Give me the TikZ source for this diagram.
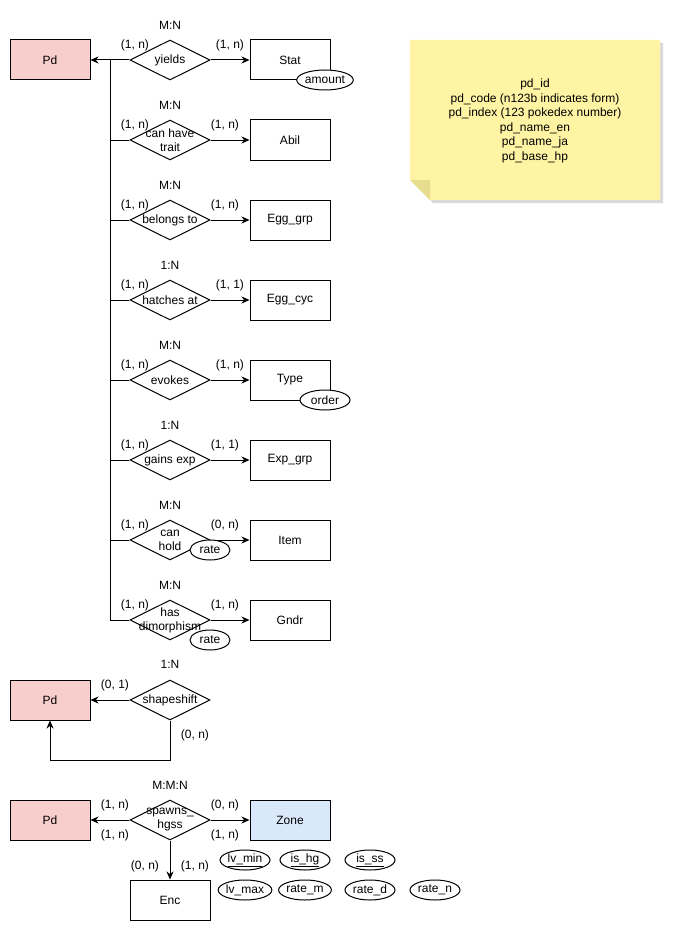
\documentclass[tikz,border=0pt]{standalone}
\usepackage{fontspec}
\setmainfont{Liberation Sans}
\usepackage{tikz}
\usetikzlibrary{shapes.geometric,arrows.meta}

\definecolor{pdred}{HTML}{F8CECC}
\definecolor{zoneblue}{HTML}{DAE8FC}
\definecolor{notefill}{HTML}{FFF4A3}
\definecolor{notefold}{HTML}{E8DC8E}

\tikzset{
  ent/.style={draw, minimum width=80pt, minimum height=40pt, inner sep=0pt},
  rel/.style={draw, diamond, fill=white, minimum width=80pt, minimum height=40pt, inner sep=0pt},
  attr/.style={draw, ellipse, fill=white, minimum width=50pt, minimum height=20pt, inner sep=0pt},
}

\begin{document}
\begin{tikzpicture}[x=1pt,y=-1pt,line width=1pt,>={Stealth[length=8pt,width=7pt,inset=2.5pt]},
  every node/.style={font=\fontsize{12}{14}\selectfont}]
\useasboundingbox (0,0) rectangle (677,931);

% sticky note
\fill[black!15] (413,43) -- (663,43) -- (663,203) -- (433,203) -- (413,183) -- cycle;
\fill[notefill] (410,40) -- (660,40) -- (660,200) -- (430,200) -- (410,180) -- cycle;
\fill[notefold] (410,180) -- (430,180) -- (430,200) -- cycle;
\node[align=center, font=\fontsize{12}{14.5}\selectfont] (note) at (535,121)
  {pd\_id\\pd\_code (n123b indicates form)\\pd\_index (123 pokedex number)\\pd\_name\_en\\pd\_name\_ja\\pd\_base\_hp};

% Pd and its relations
\node[ent,fill=pdred] (pd1) at (50,60) {Pd};
\coordinate (j1) at (110,60);
\coordinate (j8) at (110,620);
\draw (j1) -- (j8);

\node[rel,label={center:yields}] (r1) at (170,60) {};
\node[ent] (e1) at (290,60) {Stat};
\node at (170,25) {M:N};
\node at (135,45) {(1, n)};
\node at (230,45) {(1, n)};
\draw[->] (r1) -- (pd1);
\draw[->] (r1) -- (e1);

\node[rel,label={[align=center]center:can have\\trait}] (r2) at (170,140) {};
\node[ent] (e2) at (290,140) {Abil};
\node at (170,105) {M:N};
\node at (135,125) {(1, n)};
\node at (225,125) {(1, n)};
\draw (j1 |- r2) -- (r2);
\draw[->] (r2) -- (e2);

\node[rel,label={center:belongs to}] (r3) at (170,220) {};
\node[ent] (e3) at (290,220) {Egg\_grp};
\node at (170,185) {M:N};
\node at (135,205) {(1, n)};
\node at (225,205) {(1, n)};
\draw (j1 |- r3) -- (r3);
\draw[->] (r3) -- (e3);

\node[rel,label={center:hatches at}] (r4) at (170,300) {};
\node[ent] (e4) at (290,300) {Egg\_cyc};
\node at (170,265) {1:N};
\node at (135,285) {(1, n)};
\node at (230,285) {(1, 1)};
\draw (j1 |- r4) -- (r4);
\draw[->] (r4) -- (e4);

\node[rel,label={center:evokes}] (r5) at (170,380) {};
\node[ent] (e5) at (290,380) {Type};
\node at (170,345) {M:N};
\node at (135,365) {(1, n)};
\node at (230,365) {(1, n)};
\draw (j1 |- r5) -- (r5);
\draw[->] (r5) -- (e5);

\node[rel,label={center:gains exp}] (r6) at (170,460) {};
\node[ent] (e6) at (290,460) {Exp\_grp};
\node at (170,425) {1:N};
\node at (135,445) {(1, n)};
\node at (225,445) {(1, 1)};
\draw (j1 |- r6) -- (r6);
\draw[->] (r6) -- (e6);

\node[rel,label={[align=center]center:can\\hold}] (r7) at (170,540) {};
\node[ent] (e7) at (290,540) {Item};
\node at (170,505) {M:N};
\node at (135,525) {(1, n)};
\node at (225,525) {(0, n)};
\draw (j1 |- r7) -- (r7);
\draw[->] (r7) -- (e7);

\node[rel,label={[align=center]center:has\\dimorphism}] (r8) at (170,620) {};
\node[ent] (e8) at (290,620) {Gndr};
\node at (170,585) {M:N};
\node at (135,605) {(1, n)};
\node at (225,605) {(1, n)};
\draw (j8) -- (r8);
\draw[->] (r8) -- (e8);

% attributes
\node[attr] (a1) at (325,80) {amount};
\node[attr] (a5) at (325,400) {order};
\node[attr,minimum width=40pt] (a7) at (210,550) {rate};
\node[attr,minimum width=40pt] (a8) at (210,640) {rate};

% shapeshift
\node[ent,fill=pdred] (pd2) at (50,700) {Pd};
\node[rel,label={center:shapeshift}] (r9) at (170,700) {};
\coordinate (c1) at (170,760);
\coordinate (c2) at (50,760);
\node at (170,664) {1:N};
\node at (115,685) {(0, 1)};
\node at (195,735) {(0, n)};
\draw[->] (r9) -- (pd2);
\draw[->] (r9.south) -- (c1) -- (c2) -- (pd2.south);

% spawns
\node[ent,fill=pdred] (pd3) at (50,820) {Pd};
\node[rel,label={[align=center]center:spawns\_\\hgss}] (r10) at (170,820) {};
\node[ent,fill=zoneblue] (zone) at (290,820) {Zone};
\node[ent] (enc) at (170,900) {Enc};
\node at (170,785) {M:M:N};
\node at (115,805) {(1, n)};
\node at (115,835) {(1, n)};
\node at (225,805) {(0, n)};
\node at (225,835) {(1, n)};
\node at (145,866) {(0, n)};
\node at (195,866) {(1, n)};
\draw[->] (r10) -- (pd3);
\draw[->] (r10) -- (zone);
\draw[->] (r10) -- (enc);

\node[attr] (s1) at (245,860) {\underline{lv\_min}};
\node[attr] (s2) at (305,860) {\underline{is\_hg}};
\node[attr] (s3) at (370,860) {\underline{is\_ss}};
\node[attr] (s4) at (245,890) {lv\_max};
\node[attr] (s5) at (305,890) {rate\_m};
\node[attr] (s6) at (370,890) {rate\_d};
\node[attr] (s7) at (435,890) {rate\_n};
\end{tikzpicture}
\end{document}
